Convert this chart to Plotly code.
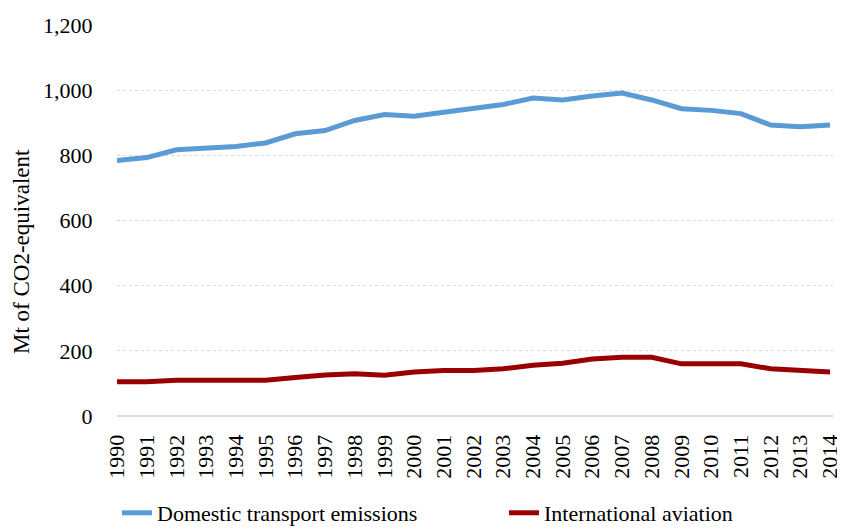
import plotly.graph_objects as go

years = list(range(1990, 2015))
year_labels = [str(y) for y in years]
domestic = [784, 793, 817, 821, 827, 838, 866, 876, 907, 925, 920, 932, 943,
            956, 976, 970, 982, 991, 970, 943, 938, 928, 893, 888, 893]
international = [105, 105, 110, 110, 110, 110, 118, 126, 130, 125, 135, 140, 140,
                 145, 156, 162, 175, 180, 180, 160, 160, 160, 145, 140, 135]
y_ticks = [0, 200, 400, 600, 800, 1000, 1200]
y_tick_labels = ["0", "200", "400", "600", "800", "1,000", "1,200"]
y_title = "Mt of CO2-equivalent"

FONT = "Liberation Serif"
# page body has an 8px margin, so the figure is drawn 8px smaller and offset
W, H = 837, 521
ML, MR, MT, MB = 109, 12, 17, 113
PW = W - ML - MR
PH = H - MT - MB

fig = go.Figure()
fig.add_trace(go.Scatter(x=years, y=domestic, mode="lines",
                         name="Domestic transport emissions", legend="legend",
                         line=dict(color="#5B9BD5", width=5)))
fig.add_trace(go.Scatter(x=years, y=international, mode="lines",
                         name="International aviation", legend="legend2",
                         line=dict(color="#990000", width=5)))

leg_common = dict(orientation="h", xref="container", yref="container",
                  y=1 - 505 / H, xanchor="left", yanchor="middle",
                  font=dict(family=FONT, size=22, color="black"),
                  bgcolor="rgba(0,0,0,0)")

fig.update_layout(
    width=W, height=H,
    margin=dict(l=ML, r=MR, t=MT, b=MB, autoexpand=False),
    paper_bgcolor="white", plot_bgcolor="white",
    font=dict(family=FONT, size=22, color="black"),
    showlegend=True,
    legend=dict(x=109 / W, **leg_common),
    legend2=dict(x=496 / W, **leg_common),
    annotations=[dict(text=y_title, textangle=-90, xref="paper", yref="paper",
                      x=(13 - ML) / PW, y=(H - MB - 244) / PH,
                      xanchor="center", yanchor="middle", showarrow=False,
                      font=dict(family=FONT, size=23, color="black"))],
)
fig.update_xaxes(
    range=[1990, 2014.1], tickmode="array", tickvals=years, ticktext=year_labels,
    tickangle=-90, showgrid=False, zeroline=False, showline=False,
    ticks="outside", ticklen=9, tickcolor="rgba(0,0,0,0)",
    tickfont=dict(family=FONT, size=22), automargin=False,
)
fig.update_yaxes(
    range=[0, 1200], tickmode="array", tickvals=y_ticks, ticktext=y_tick_labels,
    showgrid=True, gridcolor="#D9D9D9", griddash="dot", gridwidth=1,
    zeroline=True, zerolinecolor="#D9D9D9", zerolinewidth=1.5,
    showline=False, ticks="outside", ticklen=19, tickcolor="rgba(0,0,0,0)",
    tickfont=dict(family=FONT, size=22), automargin=False,
)

fig.write_html("out.html")
